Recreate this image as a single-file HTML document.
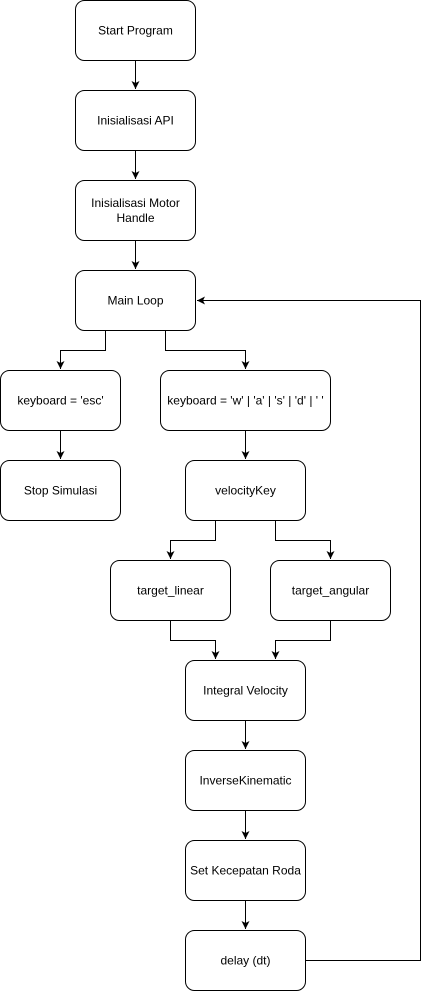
<!DOCTYPE html>
<html><head><meta charset="utf-8"><style>
html,body{margin:0;padding:0;background:#fff;}
svg{display:block;}
text{font-family:"Liberation Sans",Arial,sans-serif;font-size:12px;fill:#000;}
</style></head><body>
<svg width="429" height="991" viewBox="0 0 429 991" xmlns="http://www.w3.org/2000/svg">
<defs><marker id="a" markerWidth="10" markerHeight="10" refX="8" refY="4" orient="auto" markerUnits="userSpaceOnUse"><path d="M0,0 L8,4 L0,8 L2,4 Z" fill="#000"/></marker></defs>
<g fill="#fff" stroke="#000" stroke-width="1">
<rect x="75.5" y="0.5" width="120" height="60" rx="9"/>
<rect x="75.5" y="90.5" width="120" height="60" rx="9"/>
<rect x="75.5" y="180.5" width="120" height="60" rx="9"/>
<rect x="75.5" y="270.5" width="120" height="60" rx="9"/>
<rect x="0.5" y="370.5" width="120" height="60" rx="9"/>
<rect x="160.5" y="370.5" width="170" height="60" rx="9"/>
<rect x="0.5" y="460.5" width="120" height="60" rx="9"/>
<rect x="185.5" y="460.5" width="120" height="60" rx="9"/>
<rect x="110.5" y="560.5" width="120" height="60" rx="9"/>
<rect x="270.5" y="560.5" width="120" height="60" rx="9"/>
<rect x="185.5" y="660.5" width="120" height="60" rx="9"/>
<rect x="185.5" y="750.5" width="120" height="60" rx="9"/>
<rect x="185.5" y="840.5" width="120" height="60" rx="9"/>
<rect x="185.5" y="930.5" width="120" height="60" rx="9"/>
</g>
<g fill="none" stroke="#000" stroke-width="1" marker-end="url(#a)">
<path d="M135.5,60.5 V89"/>
<path d="M135.5,150.5 V179"/>
<path d="M135.5,240.5 V269"/>
<path d="M105.5,330.5 V350.5 H60.5 V369"/>
<path d="M165.5,330.5 V350.5 H245.5 V369"/>
<path d="M60.5,430.5 V459"/>
<path d="M245.5,430.5 V459"/>
<path d="M215.5,520.5 V540.5 H170.5 V559"/>
<path d="M275.5,520.5 V540.5 H330.5 V559"/>
<path d="M170.5,620.5 V640.5 H215.5 V659"/>
<path d="M330.5,620.5 V640.5 H275.5 V659"/>
<path d="M245.5,720.5 V749"/>
<path d="M245.5,810.5 V839"/>
<path d="M245.5,900.5 V929"/>
<path d="M305.5,960.5 H420.5 V300.5 H197"/>
</g>
<g text-anchor="middle">
<text x="135.5" y="34.5">Start Program</text>
<text x="135.5" y="124.5">Inisialisasi API</text>
<text x="135.5" y="207">Inisialisasi Motor</text>
<text x="135.5" y="222">Handle</text>
<text x="135.5" y="304.5">Main Loop</text>
<text x="60.5" y="404.5">keyboard = 'esc'</text>
<text x="245.5" y="404.5">keyboard = 'w' | 'a' | 's' | 'd' | ' '</text>
<text x="60.5" y="494.5">Stop Simulasi</text>
<text x="245.5" y="494.5">velocityKey</text>
<text x="170.5" y="594.5">target_linear</text>
<text x="330.5" y="594.5">target_angular</text>
<text x="245.5" y="694.5">Integral Velocity</text>
<text x="245.5" y="784.5">InverseKinematic</text>
<text x="245.5" y="874.5">Set Kecepatan Roda</text>
<text x="245.5" y="964.5">delay (dt)</text>
</g>
</svg>
</body></html>
